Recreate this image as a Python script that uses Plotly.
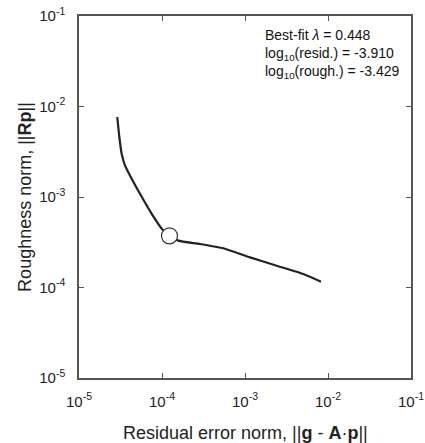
import plotly.graph_objects as go

# L-curve data (log10 values)
log_resid = [-4.539, -4.514, -4.486, -4.446, -4.386, -4.265, -4.124, -3.992, -3.910,
             -3.804, -3.542, -3.261, -2.940, -2.618, -2.298, -2.084]
log_rough = [-2.116, -2.337, -2.521, -2.651, -2.762, -2.965, -3.186, -3.363, -3.429,
             -3.482, -3.519, -3.567, -3.667, -3.759, -3.851, -3.936]
best_lambda = 0.448
best_log_resid = -3.910
best_log_rough = -3.429

tick_vals = [1e-5, 1e-4, 1e-3, 1e-2, 1e-1]
tick_text = ["10<sup>-5</sup>", "10<sup>-4</sup>", "10<sup>-3</sup>", "10<sup>-2</sup>", "10<sup>-1</sup>"]
x_title = "Residual error norm, ||<b>g</b> - <b>A</b>·<b>p</b>||"
y_title = "Roughness norm, ||<b>Rp</b>||"

resid = [10 ** v for v in log_resid]
rough = [10 ** v for v in log_rough]

fig = go.Figure()
fig.add_trace(go.Scatter(x=resid, y=rough, mode="lines",
                         line=dict(color="#222222", width=2.2, shape="spline", smoothing=0.5),
                         showlegend=False, hoverinfo="skip"))
fig.add_trace(go.Scatter(x=[10 ** best_log_resid], y=[10 ** best_log_rough], mode="markers",
                         marker=dict(size=16, color="white", line=dict(color="#333333", width=1.2)),
                         showlegend=False))

font = "Liberation Sans, Arial, sans-serif"
axis_common = dict(type="log", showgrid=False, zeroline=False, showline=True,
                   linecolor="#555555", linewidth=1.5, mirror="ticks",
                   ticks="inside", ticklen=5, tickcolor="#555555", tickwidth=1.2,
                   tickvals=tick_vals, ticktext=tick_text, automargin=False,
                   tickfont=dict(family=font, size=15, color="#222222"))

fig.update_layout(
    width=425, height=443,
    margin=dict(l=79, r=14, t=16, b=65),
    paper_bgcolor="white", plot_bgcolor="white",
    xaxis=dict(range=[-5, -1], ticklabelstandoff=9, **axis_common),
    yaxis=dict(range=[-5, -1], ticklabelstandoff=9, **axis_common),
)

fig.add_annotation(x=0.5, y=-0.152, xref="paper", yref="paper", xanchor="center", yanchor="middle",
                   text=x_title, showarrow=False,
                   font=dict(family=font, size=18, color="#222222"))
fig.add_annotation(x=-0.163, y=0.5, xref="paper", yref="paper", xanchor="center", yanchor="middle",
                   text=y_title, showarrow=False, textangle=-90,
                   font=dict(family=font, size=18, color="#222222"))

ann_text = (f"Best-fit <i>λ</i> = {best_lambda:.3f}<br>"
            f"log<sub>10</sub>(resid.) = {best_log_resid:.3f}<br>"
            f"log<sub>10</sub>(rough.) = {best_log_rough:.3f}")
fig.add_annotation(x=0.554, y=0.975, xref="paper", yref="paper", xanchor="left", yanchor="top",
                   text=ann_text, showarrow=False, align="left",
                   font=dict(family=font, size=14, color="#111111"))

fig.write_html("out.html")
